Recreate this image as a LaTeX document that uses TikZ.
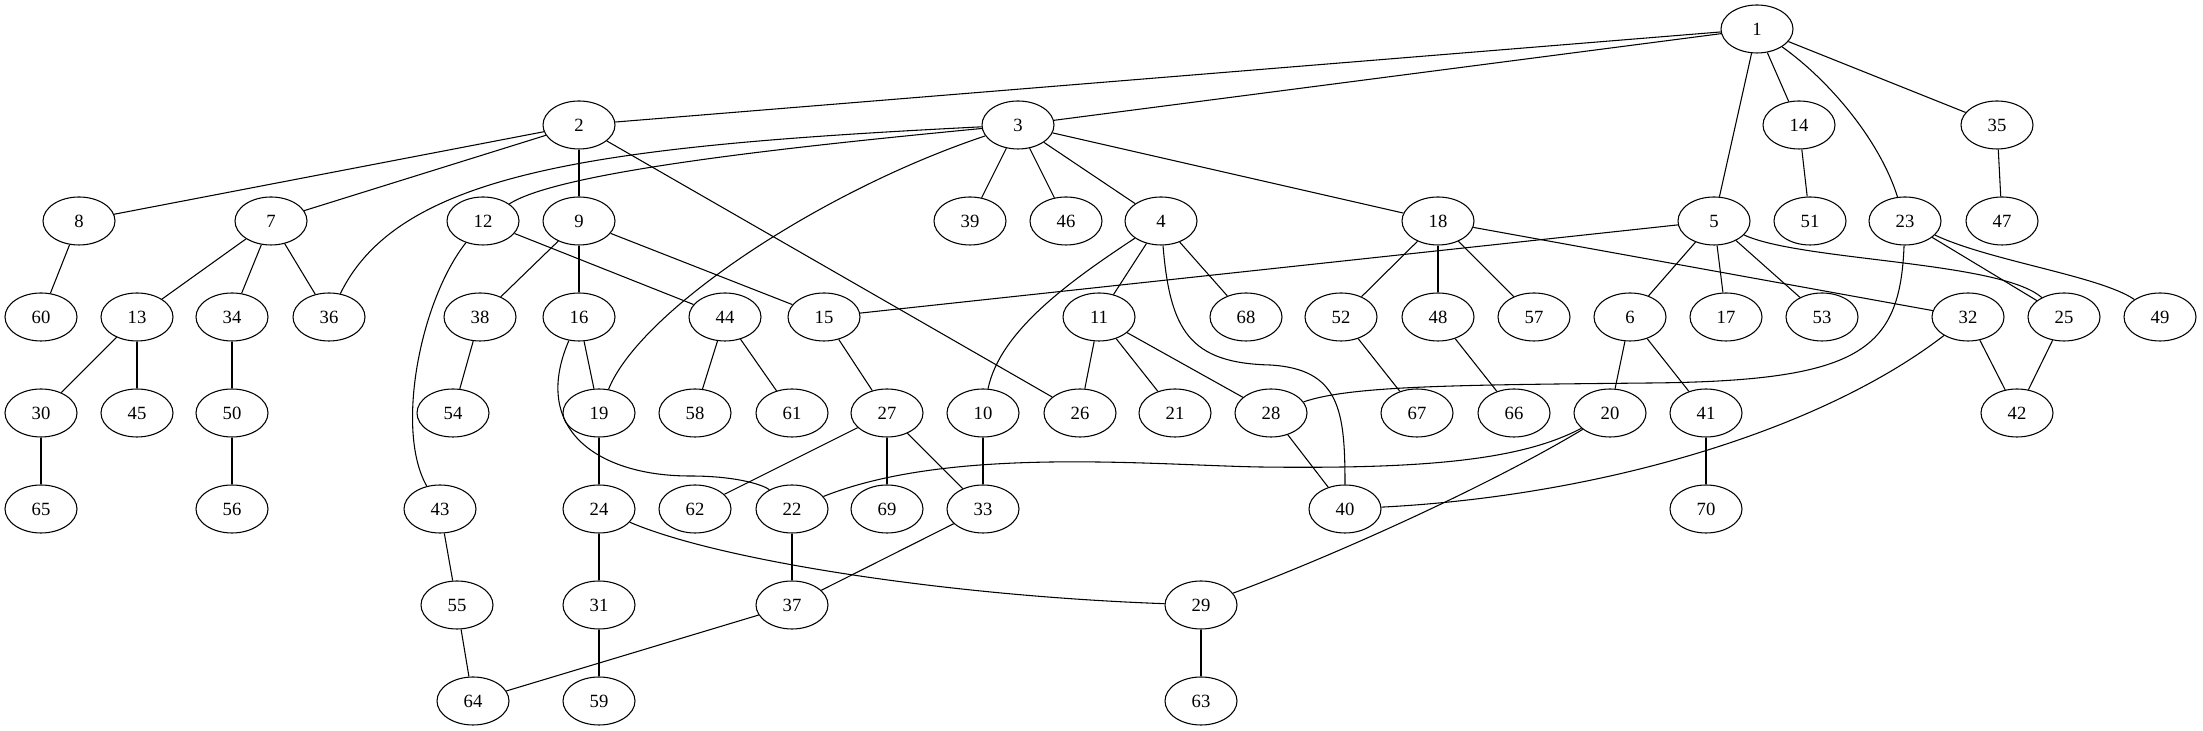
\documentclass[tikz,border=0pt]{standalone}
\usepackage{fontspec}
\setmainfont{Liberation Serif}
\usetikzlibrary{shapes.geometric}
\begin{document}
\begin{tikzpicture}[x=0.75pt,y=0.75pt,line width=0.8pt,
  vtx/.style={draw,ellipse,minimum width=54pt,minimum height=36pt,inner sep=0pt,font=\fontsize{14}{16}\selectfont}]
\useasboundingbox (0,0) rectangle (2203,731);
% rows of vertices
\node[vtx] (n1) at (1757,702) {1};
\foreach \n/\x in {2/579,3/1018,14/1799,35/1997} \node[vtx] (n\n) at (\x,606) {\n};
\foreach \n/\x in {8/79,7/271,12/483,9/579,39/970,46/1066,4/1161,18/1438,5/1714,51/1810,23/1905,47/2002} \node[vtx] (n\n) at (\x,510) {\n};
\foreach \n/\x in {60/41,13/137,34/232,36/329,38/480,16/579,44/725,15/824,11/1099,68/1246,52/1341,48/1438,57/1534,6/1630,17/1726,53/1822,32/1968,25/2064,49/2160} \node[vtx] (n\n) at (\x,414) {\n};
\foreach \n/\x in {30/41,45/137,50/232,54/453,19/599,58/695,61/792,27/887,10/983,26/1080,21/1175,28/1271,67/1417,66/1514,20/1610,41/1706,42/2017} \node[vtx] (n\n) at (\x,318) {\n};
\foreach \n/\x in {65/41,56/232,43/440,24/599,62/695,22/792,69/887,33/983,40/1345,70/1706} \node[vtx] (n\n) at (\x,222) {\n};
\foreach \n/\x in {55/457,31/599,37/792,29/1201} \node[vtx] (n\n) at (\x,126) {\n};
\foreach \n/\x in {64/473,59/599,63/1201} \node[vtx] (n\n) at (\x,30) {\n};
% straight edges
\foreach \a/\b in {1/2,1/3,1/5,1/14,1/35,2/8,2/7,2/9,2/26,3/39,3/46,3/4,3/18,14/51,35/47,8/60,7/13,7/34,7/36,12/44,9/38,9/16,9/15,4/11,4/68,18/52,18/48,18/57,18/32,5/15,5/6,5/17,5/53,23/25,13/30,13/45,34/50,38/54,16/19,44/58,44/61,15/27,11/26,11/21,11/28,52/67,48/66,6/20,6/41,32/42,25/42,30/65,50/56,19/24,27/62,27/69,27/33,10/33,28/40,41/70,43/55,24/31,22/37,33/37,55/64,31/59,37/64,29/63}
  \draw (n\a) -- (n\b);
% curved edges
\draw (n1) .. controls (1830,650) and (1880,590) .. (n23);
\draw (n3) .. controls (600,585) and (400,560) .. (n36);
\draw (n3) .. controls (800,585) and (560,560) .. (n12);
\draw (n3) .. controls (820,540) and (640,420) .. (n19);
\draw (n12) .. controls (420,430) and (395,300) .. (n43);
\draw (n16) .. controls (530,300) and (600,255) .. (690,255) .. controls (740,255) and (765,245) .. (n22);
\draw (n4) .. controls (1070,450) and (1000,400) .. (n10);
\draw (n4) .. controls (1170,400) and (1190,368) .. (1270,366) .. controls (1340,362) and (1345,320) .. (n40);
\draw (n5) .. controls (1800,470) and (2000,470) .. (n25);
\draw (n23) .. controls (1990,470) and (2100,455) .. (n49);
\draw (n23) .. controls (1900,380) and (1860,350) .. (1650,348) .. controls (1450,346) and (1350,345) .. (n28);
\draw (n20) .. controls (1520,270) and (1420,262) .. (1260,264) .. controls (1150,266) and (950,285) .. (n22);
\draw (n20) .. controls (1480,240) and (1320,170) .. (n29);
\draw (n32) .. controls (1820,300) and (1600,235) .. (n40);
\draw (n24) .. controls (720,170) and (950,135) .. (n29);
\end{tikzpicture}
\end{document}
